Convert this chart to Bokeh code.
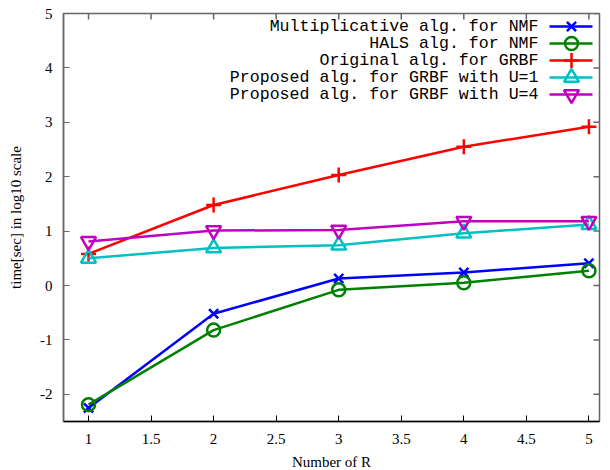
from bokeh.plotting import figure
from bokeh.models import FixedTicker, Label, Range1d
from bokeh.embed import file_html
from bokeh.resources import INLINE

# ---- data ----
R = [1, 2, 3, 4, 5]
mult_nmf = [-2.25, -0.52, 0.13, 0.24, 0.41]
hals_nmf = [-2.19, -0.82, -0.08, 0.05, 0.27]
orig_grbf = [0.58, 1.48, 2.03, 2.55, 2.92]
prop_u1 = [0.50, 0.69, 0.74, 0.96, 1.12]
prop_u4 = [0.81, 1.01, 1.02, 1.18, 1.18]

series_names = [
    "Multiplicative alg. for NMF",
    "HALS alg. for NMF",
    "Original alg. for GRBF",
    "Proposed alg. for GRBF with U=1",
    "Proposed alg. for GRBF with U=4",
]
x_ticks = [1, 1.5, 2, 2.5, 3, 3.5, 4, 4.5, 5]
x_tick_labels = ["1", "1.5", "2", "2.5", "3", "3.5", "4", "4.5", "5"]
y_ticks = [-2, -1, 0, 1, 2, 3, 4, 5]
y_tick_labels = ["-2", "-1", "0", "1", "2", "3", "4", "5"]

# ---- layout constants ----
FRAME_W = 536
FRAME_H = 408
XPX = 125.1          # pixels per x unit
X0 = 0.8
X_END = X0 + FRAME_W / XPX
Y0, Y1 = -2.5, 5.0
YPX = FRAME_H / (Y1 - Y0)
FRAME_LEFT_PX = 64   # page coords of frame
FRAME_TOP_PX = 14
TICK = 6

def px2x(px):
    return X0 + (px - FRAME_LEFT_PX) / XPX

def py2y(py):
    return Y1 - (py - FRAME_TOP_PX) / YPX

p = figure(
    frame_width=FRAME_W, frame_height=FRAME_H,
    x_range=Range1d(X0, X_END),
    y_range=Range1d(Y0, Y1),
    output_backend="svg", toolbar_location=None,
    min_border_left=63, min_border_top=13, min_border_right=2, min_border_bottom=0,
    x_axis_label="Number of R", y_axis_label="time[sec] in log10 scale",
)
p.grid.visible = False
p.outline_line_color = "#666666"
p.outline_line_width = 1.5
p.background_fill_color = "white"

SERIF = "Liberation Serif"
MONO = "Liberation Mono"

xa = p.xaxis[0]
xa.ticker = FixedTicker(ticks=x_ticks)
xa.major_label_overrides = {t: l for t, l in zip(x_ticks, x_tick_labels)}
ya = p.yaxis[0]
ya.ticker = FixedTicker(ticks=y_ticks)
ya.major_label_overrides = {t: l for t, l in zip(y_ticks, y_tick_labels)}

for ax, col in ((xa, "black"), (ya, "#666666")):
    ax.minor_tick_line_color = None
    ax.major_tick_in = TICK
    ax.major_tick_out = 0
    ax.axis_line_color = col
    ax.axis_line_width = 1.5
    ax.major_tick_line_color = col
    ax.major_label_text_font = SERIF
    ax.major_label_text_font_size = "15px"
    ax.major_label_text_color = "black"
    ax.axis_label_text_font = SERIF
    ax.axis_label_text_font_size = "15px"
    ax.axis_label_text_font_style = "normal"
    ax.axis_label_text_color = "black"
xa.major_label_standoff = 12
xa.axis_label_standoff = 7
ya.major_label_standoff = 11
ya.axis_label_standoff = 13

# mirror ticks on top and right border (gnuplot style)
p.segment(x0=x_ticks, y0=[Y1] * len(x_ticks), x1=x_ticks,
          y1=[Y1 - TICK / YPX] * len(x_ticks),
          line_color="#666666", line_width=1.5)
p.segment(x0=[X_END] * len(y_ticks), y0=y_ticks,
          x1=[X_END - TICK / XPX] * len(y_ticks), y1=y_ticks,
          line_color="#666666", line_width=1.5)

colors = ["#0000ff", "#008000", "#ff0000", "#00c0c0", "#c000c0"]
markers = ["x", "circle", "cross", "triangle", "inverted_triangle"]
sizes = [13, 13, 15, 15, 15]
all_series = [mult_nmf, hals_nmf, orig_grbf, prop_u1, prop_u4]

for ys, c, m, s in zip(all_series, colors, markers, sizes):
    p.line(R, ys, line_color=c, line_width=2.5)
    p.scatter(R, ys, marker=m, size=s, line_color=c, line_width=2.5,
              fill_color=None)

# ---- gnuplot-style legend (text right-aligned, sample on the right) ----
row_py = [27, 44, 61, 78, 95]
for name, c, m, s, py in zip(series_names, colors, markers, sizes, row_py):
    yy = py2y(py)
    p.add_layout(Label(x=px2x(539), y=yy, text=name, text_align="right",
                       text_baseline="middle", text_font=MONO,
                       text_font_size="16.6px", text_color="black"))
    p.line([px2x(550), px2x(593)], [yy, yy], line_color=c, line_width=2.5)
    p.scatter([px2x(572)], [yy], marker=m, size=s, line_color=c,
              line_width=2.5, fill_color=None)

open("out.html", "w").write(file_html(p, INLINE))
